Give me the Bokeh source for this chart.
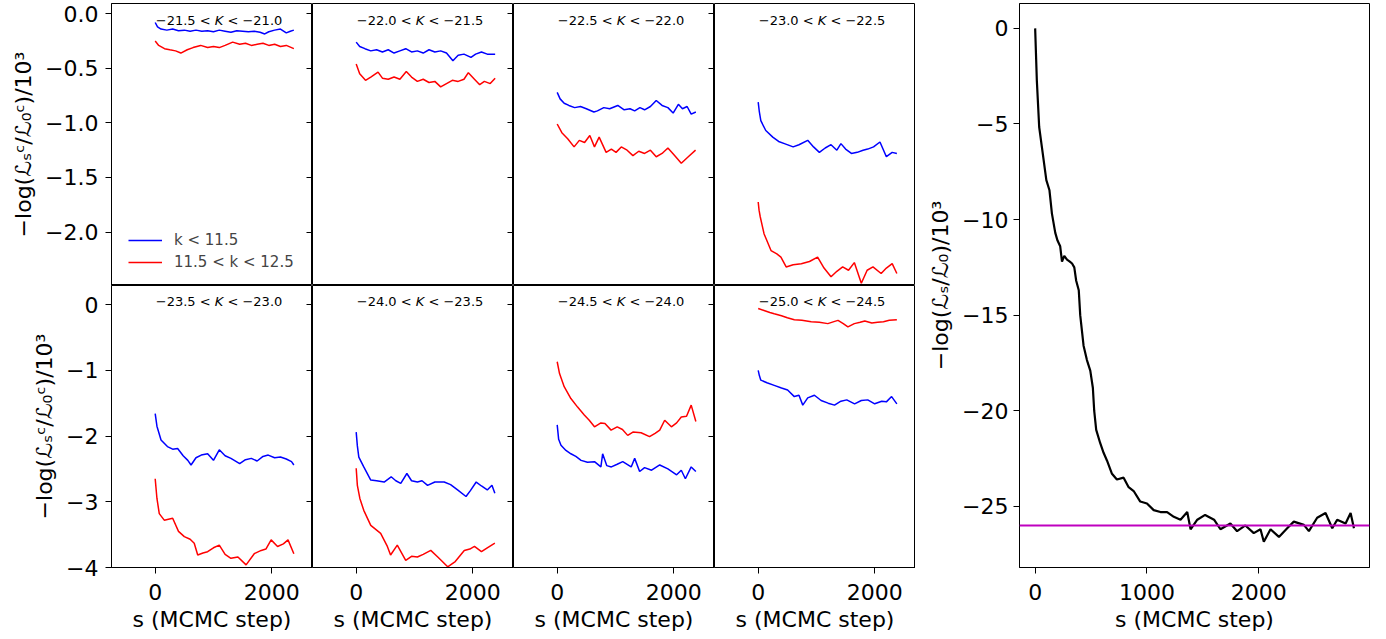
from bokeh.plotting import figure
from bokeh.models import (Range1d, FixedTicker, CustomJSTickFormatter, LinearAxis,
                          Label, Span, Legend, LegendItem)
from bokeh.layouts import row, column
from bokeh.embed import file_html
from bokeh.resources import INLINE

FONT = "DejaVu Sans"
BLUE = "#0000ff"
RED = "#ff0000"
MAGENTA = "#bf00bf"

# ---------------- data ----------------
k_bins_lo = ["−21.5", "−22.0", "−22.5", "−23.0", "−23.5", "−24.0", "−24.5", "−25.0"]
k_bins_hi = ["−21.0", "−21.5", "−22.0", "−22.5", "−23.0", "−23.5", "−24.0", "−24.5"]
legend_labels = ["k < 11.5", "11.5 < k < 12.5"]

s_b1 = [0, 40, 100, 200, 300, 400, 500, 600, 700, 800, 900, 1000, 1100, 1200, 1300, 1400, 1500, 1600, 1700, 1800, 1880, 1950, 2050, 2150, 2250, 2320, 2380]
v_b1 = [-0.08, -0.12, -0.14, -0.15, -0.14, -0.155, -0.15, -0.16, -0.15, -0.16, -0.155, -0.165, -0.15, -0.16, -0.17, -0.155, -0.16, -0.165, -0.16, -0.17, -0.185, -0.165, -0.15, -0.14, -0.175, -0.16, -0.15]
s_r1 = [0, 60, 160, 250, 350, 440, 550, 650, 780, 900, 1000, 1100, 1200, 1330, 1450, 1550, 1650, 1750, 1850, 1950, 2050, 2150, 2250, 2380]
v_r1 = [-0.25, -0.29, -0.32, -0.33, -0.34, -0.36, -0.33, -0.31, -0.29, -0.31, -0.30, -0.31, -0.29, -0.26, -0.28, -0.27, -0.29, -0.28, -0.27, -0.29, -0.28, -0.30, -0.29, -0.32]

s_b2 = [0, 60, 150, 250, 350, 450, 550, 650, 750, 850, 950, 1050, 1150, 1250, 1350, 1450, 1550, 1660, 1750, 1850, 1970, 2050, 2150, 2250, 2385]
v_b2 = [-0.26, -0.30, -0.32, -0.34, -0.33, -0.35, -0.33, -0.36, -0.34, -0.32, -0.35, -0.34, -0.36, -0.33, -0.35, -0.34, -0.36, -0.43, -0.38, -0.37, -0.40, -0.37, -0.35, -0.37, -0.37]
s_r2 = [0, 60, 160, 250, 375, 450, 550, 650, 750, 860, 950, 1050, 1150, 1250, 1350, 1450, 1550, 1650, 1750, 1850, 1925, 2030, 2120, 2200, 2300, 2385]
v_r2 = [-0.46, -0.55, -0.61, -0.58, -0.535, -0.59, -0.60, -0.58, -0.60, -0.53, -0.58, -0.62, -0.60, -0.63, -0.62, -0.67, -0.64, -0.61, -0.62, -0.60, -0.54, -0.60, -0.65, -0.62, -0.64, -0.59]

s_b3 = [0, 50, 120, 200, 300, 400, 500, 630, 690, 800, 900, 1040, 1150, 1250, 1330, 1420, 1500, 1600, 1700, 1800, 1900, 1990, 2080, 2150, 2230, 2300, 2380]
v_b3 = [-0.72, -0.78, -0.82, -0.84, -0.86, -0.85, -0.87, -0.90, -0.89, -0.86, -0.87, -0.84, -0.88, -0.87, -0.89, -0.86, -0.88, -0.85, -0.795, -0.84, -0.86, -0.91, -0.83, -0.87, -0.85, -0.92, -0.90]
s_r3 = [0, 80, 180, 290, 380, 470, 560, 640, 720, 840, 930, 1010, 1100, 1200, 1300, 1400, 1500, 1600, 1700, 1800, 1900, 2000, 2130, 2250, 2375]
v_r3 = [-1.01, -1.09, -1.145, -1.22, -1.16, -1.18, -1.115, -1.22, -1.13, -1.27, -1.24, -1.27, -1.22, -1.25, -1.30, -1.26, -1.28, -1.25, -1.31, -1.28, -1.23, -1.29, -1.37, -1.31, -1.25]

s_b4 = [0, 20, 45, 130, 250, 350, 450, 600, 700, 850, 950, 1050, 1150, 1250, 1350, 1420, 1500, 1600, 1700, 1800, 1880, 1980, 2090, 2200, 2300, 2380]
v_b4 = [-0.81, -0.90, -0.98, -1.07, -1.13, -1.17, -1.19, -1.22, -1.20, -1.16, -1.22, -1.27, -1.23, -1.20, -1.25, -1.19, -1.24, -1.28, -1.27, -1.25, -1.24, -1.22, -1.175, -1.31, -1.27, -1.28]
s_r4 = [0, 15, 35, 100, 220, 320, 390, 480, 600, 740, 880, 1020, 1130, 1250, 1350, 1450, 1550, 1650, 1770, 1870, 1970, 2110, 2200, 2300, 2380]
v_r4 = [-1.725, -1.80, -1.86, -2.015, -2.17, -2.20, -2.23, -2.32, -2.30, -2.29, -2.27, -2.23, -2.33, -2.41, -2.36, -2.32, -2.35, -2.28, -2.47, -2.35, -2.32, -2.38, -2.33, -2.29, -2.38]

s_b5 = [0, 30, 100, 210, 300, 385, 480, 560, 615, 700, 790, 900, 1000, 1100, 1200, 1300, 1450, 1550, 1650, 1750, 1850, 1940, 2050, 2150, 2250, 2340, 2380]
v_b5 = [-1.66, -1.85, -2.06, -2.16, -2.20, -2.19, -2.30, -2.37, -2.44, -2.33, -2.29, -2.27, -2.37, -2.21, -2.30, -2.34, -2.42, -2.36, -2.34, -2.38, -2.31, -2.29, -2.33, -2.32, -2.35, -2.39, -2.44]
s_r5 = [0, 30, 70, 155, 300, 400, 500, 600, 670, 730, 820, 900, 1000, 1100, 1200, 1300, 1420, 1560, 1700, 1820, 1900, 1990, 2100, 2200, 2280, 2380]
v_r5 = [-2.65, -2.95, -3.18, -3.28, -3.25, -3.45, -3.53, -3.57, -3.63, -3.81, -3.78, -3.76, -3.70, -3.66, -3.80, -3.86, -3.84, -3.96, -3.79, -3.74, -3.72, -3.58, -3.68, -3.64, -3.58, -3.79]

s_b6 = [0, 20, 45, 130, 250, 350, 480, 600, 680, 765, 870, 950, 1050, 1130, 1225, 1350, 1510, 1620, 1740, 1885, 1960, 2060, 2150, 2250, 2330, 2380]
v_b6 = [-1.94, -2.15, -2.32, -2.47, -2.67, -2.68, -2.70, -2.62, -2.68, -2.72, -2.57, -2.68, -2.70, -2.68, -2.75, -2.70, -2.70, -2.74, -2.82, -2.92, -2.83, -2.70, -2.76, -2.82, -2.75, -2.87]
s_r6 = [0, 20, 63, 130, 250, 420, 535, 590, 705, 850, 950, 1050, 1150, 1280, 1400, 1470, 1570, 1700, 1855, 1950, 2030, 2150, 2250, 2380]
v_r6 = [-2.49, -2.75, -2.95, -3.13, -3.36, -3.48, -3.68, -3.81, -3.66, -3.89, -3.83, -3.84, -3.80, -3.74, -3.84, -3.90, -3.99, -3.91, -3.74, -3.72, -3.68, -3.76, -3.70, -3.63]

s_b7 = [0, 25, 65, 150, 235, 320, 410, 520, 640, 750, 780, 850, 930, 1030, 1125, 1270, 1330, 1415, 1500, 1620, 1760, 1900, 2050, 2130, 2200, 2300, 2380]
v_b7 = [-1.83, -2.05, -2.14, -2.22, -2.27, -2.31, -2.37, -2.40, -2.39, -2.47, -2.27, -2.45, -2.47, -2.43, -2.39, -2.47, -2.34, -2.54, -2.48, -2.52, -2.44, -2.50, -2.59, -2.52, -2.65, -2.47, -2.54]
s_r7 = [0, 40, 120, 235, 350, 465, 550, 640, 750, 820, 925, 1030, 1120, 1210, 1300, 1440, 1585, 1680, 1760, 1845, 1960, 2050, 2130, 2220, 2300, 2380]
v_r7 = [-0.87, -1.05, -1.25, -1.43, -1.56, -1.68, -1.76, -1.86, -1.80, -1.81, -1.91, -1.86, -1.90, -1.99, -1.94, -1.95, -2.01, -1.96, -1.91, -1.76, -1.86, -1.80, -1.71, -1.70, -1.53, -1.78]

s_b8 = [0, 20, 45, 150, 275, 400, 505, 620, 700, 765, 850, 965, 1080, 1200, 1310, 1420, 1520, 1655, 1770, 1880, 2000, 2120, 2200, 2290, 2380]
v_b8 = [-1.00, -1.08, -1.15, -1.19, -1.23, -1.27, -1.30, -1.40, -1.38, -1.53, -1.42, -1.38, -1.46, -1.50, -1.53, -1.47, -1.45, -1.51, -1.46, -1.45, -1.51, -1.47, -1.48, -1.40, -1.51]
s_r8 = [0, 100, 200, 275, 400, 500, 620, 750, 910, 1050, 1195, 1300, 1370, 1460, 1540, 1650, 1750, 1830, 1950, 2050, 2150, 2250, 2380]
v_r8 = [-0.06, -0.09, -0.12, -0.14, -0.17, -0.20, -0.23, -0.24, -0.26, -0.27, -0.29, -0.26, -0.24, -0.29, -0.34, -0.29, -0.27, -0.25, -0.28, -0.27, -0.26, -0.24, -0.23]

s_all = [0, 15, 36, 60, 100, 128, 150, 180, 200, 224, 240, 260, 285, 310, 330, 350, 367, 390, 403, 433,
         463, 493, 516, 528, 546, 582, 612, 642, 687, 731, 791, 836, 881, 940, 1000, 1060, 1120, 1180, 1240, 1300,
         1360, 1390, 1450, 1520, 1600, 1657, 1746, 1806, 1880, 1955, 2015, 2045, 2105, 2180, 2254, 2313, 2403, 2448, 2522, 2597,
         2657, 2701, 2776, 2821, 2851]
v_all = [0.0, -2.72, -5.16, -6.2, -7.94, -8.47, -9.69, -10.7, -11.1, -11.4, -12.2, -11.9, -12.1, -12.2, -12.3, -12.5, -13.2, -13.7, -15.0, -16.6,
         -17.35, -17.9, -18.8, -20.0, -21.0, -21.7, -22.2, -22.6, -23.3, -23.6, -23.5, -24.0, -24.2, -24.75, -24.85, -25.2, -25.3, -25.3, -25.55, -25.7,
         -25.3, -26.2, -25.7, -25.45, -25.7, -26.2, -25.9, -26.3, -26.0, -26.4, -26.2, -26.85, -26.2, -26.6, -26.15, -25.8, -25.97, -26.3, -25.6, -25.35,
         -26.15, -25.7, -25.9, -25.35, -26.15]
reference_level = -26.0

blue_series = [(s_b1, v_b1), (s_b2, v_b2), (s_b3, v_b3), (s_b4, v_b4),
               (s_b5, v_b5), (s_b6, v_b6), (s_b7, v_b7), (s_b8, v_b8)]
red_series = [(s_r1, v_r1), (s_r2, v_r2), (s_r3, v_r3), (s_r4, v_r4),
              (s_r5, v_r5), (s_r6, v_r6), (s_r7, v_r7), (s_r8, v_r8)]

top_yticks = [0.0, -0.5, -1.0, -1.5, -2.0]
bot_yticks = [0, -1, -2, -3, -4]
small_xticks = [0, 2000]
big_xticks = [0, 1000, 2000]
big_yticks = [0, -5, -10, -15, -20, -25]

YLAB_SMALL = "−log(ℒₛᶜ/ℒ₀ᶜ)/10³"
YLAB_BIG = "−log(ℒₛ/ℒ₀)/10³"
XLAB = "s (MCMC step)"

# DejaVu Sans advance widths (em) used to place the italic K inside the bin labels
TITLE_PX = 13
W_PART1 = 4.538 * TITLE_PX
W_K = 0.656 * TITLE_PX
W_SPACE = 0.318 * TITLE_PX


def fmt(d):
    return CustomJSTickFormatter(code=(
        "var s = Math.abs(tick).toFixed(%d); return (tick < -1e-9 ? '\u2212' : '') + s;" % d))


def style_axis(ax, label_standoff=9, title_standoff=6):
    ax.major_label_text_font = FONT
    ax.major_label_text_font_size = "22px"
    ax.major_label_text_color = "black"
    ax.axis_label_text_font = FONT
    ax.axis_label_text_font_size = "22px"
    ax.axis_label_text_font_style = "normal"
    ax.axis_label_text_color = "black"
    ax.major_tick_out = 6
    ax.major_tick_in = 0
    ax.major_tick_line_color = "black"
    ax.minor_tick_line_color = None
    ax.axis_line_color = "black"
    ax.major_label_standoff = label_standoff
    ax.axis_label_standoff = title_standoff


def small_panel(i):
    r, c = divmod(i, 4)
    yr = (-2.49, 0.094) if r == 0 else (-4.0, 0.29)
    p = figure(frame_width=201, frame_height=282,
               x_range=Range1d(-750, 2700), y_range=Range1d(*yr),
               x_axis_location=None, y_axis_location=None,
               output_backend="svg", toolbar_location=None,
               min_border=0, min_border_left=111 if c == 0 else 0,
               min_border_right=0, min_border_top=3 if r == 0 else 0,
               min_border_bottom=62 if r == 1 else 0)
    p.xgrid.visible = False
    p.ygrid.visible = False
    p.outline_line_color = "black"
    p.outline_line_width = 1
    p.outline_line_alpha = 1
    yt = top_yticks if r == 0 else bot_yticks
    if c == 0:
        ax = LinearAxis(ticker=FixedTicker(ticks=yt), formatter=fmt(1 if r == 0 else 0),
                        axis_label=YLAB_SMALL)
        style_axis(ax, 7)
        p.add_layout(ax, "left")
    if c < 3:
        rax = LinearAxis(ticker=FixedTicker(ticks=yt),
                         formatter=CustomJSTickFormatter(code="return '';"))
        rax.major_tick_in = 6
        rax.major_tick_out = 0
        rax.major_label_standoff = 0
        rax.axis_line_color = None
        rax.minor_tick_line_color = None
        rax.major_tick_line_color = "black"
        p.add_layout(rax, "right")
    if r == 1:
        bx = LinearAxis(ticker=FixedTicker(ticks=small_xticks), axis_label=XLAB)
        style_axis(bx, 10, 4)
        p.add_layout(bx, "below")
    sb, vb = blue_series[i]
    sr, vr = red_series[i]
    lb = p.line(sb, vb, line_color=BLUE, line_width=1.5)
    lr = p.line(sr, vr, line_color=RED, line_width=1.5)
    ty = -0.061 if r == 0 else 0.04
    common = dict(x=10, y=ty, text_font=FONT, text_font_size="%dpx" % TITLE_PX,
                  text_color="black", text_baseline="middle", text_align="left")
    p.add_layout(Label(text=k_bins_lo[i] + " <", **common))
    p.add_layout(Label(text="K", x_offset=W_PART1, text_font_style="italic", **common))
    p.add_layout(Label(text="< " + k_bins_hi[i], x_offset=W_PART1 + W_K + W_SPACE, **common))
    if i == 0:
        leg = Legend(items=[LegendItem(label=legend_labels[0], renderers=[lb]),
                            LegendItem(label=legend_labels[1], renderers=[lr])],
                     location=(17, 13), padding=5, margin=0, spacing=2,
                     glyph_width=34, glyph_height=20, label_height=20, label_standoff=12,
                     label_text_font=FONT, label_text_font_size="15px",
                     border_line_color=None, background_fill_alpha=0)
        p.add_layout(leg)
    return p


panels = [small_panel(i) for i in range(8)]

big = figure(frame_width=350, frame_height=564,
             x_range=Range1d(-140, 2990), y_range=Range1d(-28.2, 1.3),
             x_axis_location=None, y_axis_location=None,
             output_backend="svg", toolbar_location=None,
             min_border=0, min_border_left=104, min_border_right=4,
             min_border_top=3, min_border_bottom=62)
big.xgrid.visible = False
big.ygrid.visible = False
big.outline_line_color = "black"
big.outline_line_width = 1
ly = LinearAxis(ticker=FixedTicker(ticks=big_yticks), formatter=fmt(0), axis_label=YLAB_BIG)
style_axis(ly, 5)
big.add_layout(ly, "left")
lx = LinearAxis(ticker=FixedTicker(ticks=big_xticks), axis_label=XLAB)
style_axis(lx, 10, 4)
big.add_layout(lx, "below")
big.line(s_all, v_all, line_color="black", line_width=2.2)
big.add_layout(Span(location=reference_level, dimension="width", line_color=MAGENTA, line_width=2))

layout = row(column(row(*panels[:4]), row(*panels[4:])), big)

open("out.html", "w").write(file_html(layout, INLINE))
